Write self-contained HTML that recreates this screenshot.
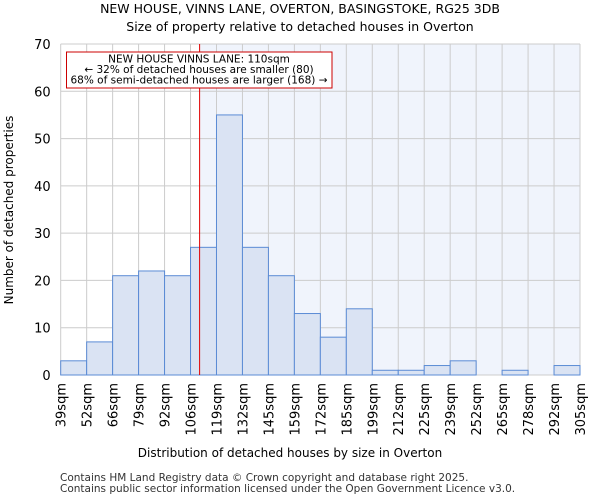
<!DOCTYPE html>
<html><head><meta charset="utf-8"><style>
body{margin:0;background:#fff;font-family:"DejaVu Sans","Liberation Sans",sans-serif}
</style></head><body>
<svg width="600" height="500" xmlns="http://www.w3.org/2000/svg" font-family="DejaVu Sans, Liberation Sans, sans-serif">
<text x="300" y="13" text-anchor="middle" font-size="12.5">NEW HOUSE, VINNS LANE, OVERTON, BASINGSTOKE, RG25 3DB</text>
<text x="300" y="31" text-anchor="middle" font-size="12.5">Size of property relative to detached houses in Overton</text>
<g id="plot"></g>
<text x="290" y="457" text-anchor="middle" font-size="12">Distribution of detached houses by size in Overton</text>
<text transform="translate(13,210) rotate(-90)" text-anchor="middle" font-size="12">Number of detached properties</text>
<text x="60" y="481" font-size="10.5" fill="#333">Contains HM Land Registry data © Crown copyright and database right 2025.</text>
<text x="60" y="492" font-size="10.5" fill="#333">Contains public sector information licensed under the Open Government Licence v3.0.</text>
</svg>
<script>
const binLabels=["39sqm","52sqm","66sqm","79sqm","92sqm","106sqm","119sqm","132sqm","145sqm","159sqm","172sqm","185sqm","199sqm","212sqm","225sqm","239sqm","252sqm","265sqm","278sqm","292sqm","305sqm"];
const counts=[3,7,21,22,21,27,55,27,21,13,8,14,1,1,2,3,0,1,0,2];
const yTicks=[0,10,20,30,40,50,60,70];
const markerValue=110;
const binStart=39, binEnd=305;
const x0=60.7,x1=580,y0=375,y1=44,yMax=70;
const nb=counts.length, bw=(x1-x0)/nb;
const xIdx=i=>x0+i*bw;
const y=v=>y0-(v/yMax)*(y0-y1);
const xVal=v=>x0+(v-binStart)/(binEnd-binStart)*(x1-x0);
const ns="http://www.w3.org/2000/svg";
const g=document.getElementById('plot');
function mk(t,a){const e=document.createElementNS(ns,t);for(const k in a)e.setAttribute(k,a[k]);g.appendChild(e);return e;}
const mx=xVal(markerValue)+0.3;
let e=mk('rect',{x:mx,y:y1,width:x1-mx,height:y0-y1,fill:'#f0f4fc'});


for(let i=0;i<=nb;i++){e=mk('line',{x1:xIdx(i),x2:xIdx(i),y1:y1,y2:y0,stroke:'#cccccc','stroke-width':1});

}
yTicks.forEach(t=>{e=mk('line',{x1:x0,x2:x1,y1:y(t),y2:y(t),stroke:'#cccccc','stroke-width':1});


e=mk('text',{x:x0-10,y:y(t)+5,'text-anchor':'end','font-size':13});e.textContent=t;

});
counts.forEach((c,i)=>{if(c<=0)return;e=mk('rect',{x:xIdx(i),y:y(c),width:bw,height:y0-y(c),fill:'#dae3f3',stroke:'#5b8bd5','stroke-width':1});

});
binLabels.forEach((l,i)=>{const xx=xIdx(i);e=mk('text',{x:0,y:0,transform:`translate(${xx+5},${y0+8}) rotate(-90)`,'text-anchor':'end','font-size':13});e.textContent=l;

});
e=mk('line',{x1:mx,x2:mx,y1:y1,y2:y0,stroke:'#e00000','stroke-width':1});


e=mk('rect',{x:66.5,y:52,width:265.5,height:36,fill:'#fff',stroke:'#cc0000','stroke-width':1});


["NEW HOUSE VINNS LANE: 110sqm","← 32% of detached houses are smaller (80)","68% of semi-detached houses are larger (168) →"].forEach((t,i)=>{e=mk('text',{x:199,y:62.5+i*10.5,'text-anchor':'middle','font-size':10.5});e.textContent=t;

});
</script>
</body></html>
